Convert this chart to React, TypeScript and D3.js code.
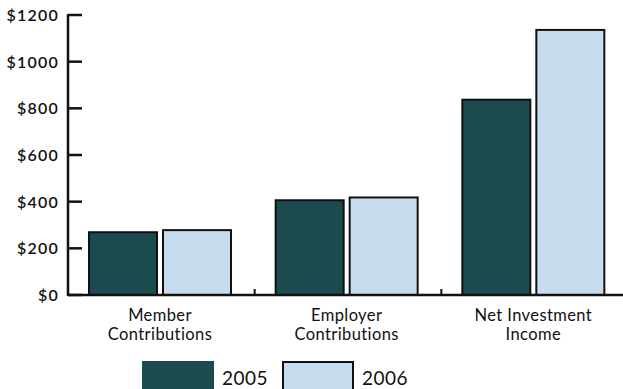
import React from "react";
import * as d3 from "d3";

const categories = [["Member", "Contributions"], ["Employer", "Contributions"], ["Net Investment", "Income"]];
const series = ["2005", "2006"];
const values2005 = [269, 406, 837];
const values2006 = [278, 418, 1136];
const yTicks = [0, 200, 400, 600, 800, 1000, 1200];

const W = 623, H = 389;
const colors = ["#1b4b4e", "#c7dcee"];

export default function App() {
  const x = d3.scaleBand<number>().domain([0, 1, 2]).range([68, 628]).padding(0);
  const y = d3.scaleLinear().domain([0, 1200]).range([295, 15]);
  const bw = 68, gap = 6, off = 21;
  const data = [values2005, values2006];
  const font = "Lato, 'Open Sans', sans-serif";
  return (
    <svg width={W} height={H} style={{ position: "absolute", left: 0, top: 0, background: "#fff" }}>
      {data.map((vals, s) =>
        vals.map((v, i) => (
          <rect key={`${s}-${i}`} x={(x(i) as number) + off + s * (bw + gap)} y={y(v)} width={bw} height={y(0) - y(v)}
            fill={colors[s]} stroke="#111" strokeWidth={2} />
        ))
      )}
      <line x1={68} x2={623} y1={y(0)} y2={y(0)} stroke="#111" strokeWidth={2.5} />
      <line x1={68} x2={68} y1={y(1200) - 1} y2={y(0) + 1} stroke="#111" strokeWidth={2.5} />
      {yTicks.map(t => (
        <g key={t}>
          <line x1={68} x2={82} y1={y(t)} y2={y(t)} stroke="#111" strokeWidth={2.5} />
          <text x={59} y={y(t) + 6} textAnchor="end" fontFamily={font} fontSize={16} fontWeight={600} letterSpacing={1.2} fill="#111">{`$${t}`}</text>
        </g>
      ))}
      {[1, 2].map(i => (
        <line key={i} x1={x(i) as number} x2={x(i) as number} y1={y(0) - 6} y2={y(0)} stroke="#111" strokeWidth={2} />
      ))}
      {categories.map((c, i) => {
        const cx = (x(i) as number) + off + bw + gap / 2;
        return (
          <text key={i} x={cx} textAnchor="middle" fontFamily={font} fontSize={16.5} letterSpacing={0.4} fill="#111">
            <tspan x={cx} y={321}>{c[0]}</tspan>
            <tspan x={cx} y={340}>{c[1]}</tspan>
          </text>
        );
      })}
      {series.map((s, i) => (
        <g key={s}>
          <rect x={143 + i * 140} y={362} width={70} height={40} fill={colors[i]} stroke={i === 0 ? colors[0] : "#111"} strokeWidth={2} />
          <text x={222 + i * 140} y={385} fontFamily={font} fontSize={19} letterSpacing={0.5} fill="#111">{s}</text>
        </g>
      ))}
    </svg>
  );
}
